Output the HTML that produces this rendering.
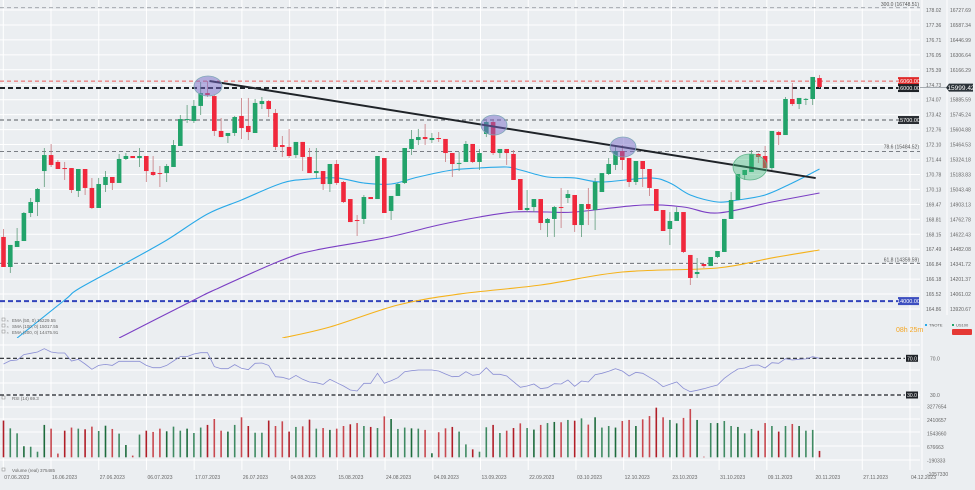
<!DOCTYPE html>
<html><head><meta charset="utf-8"><style>
html,body{margin:0;padding:0;background:#ebeef1;}
svg{display:block;font-family:"Liberation Sans",sans-serif;}
</style></head><body>
<svg id="c" width="975" height="490" viewBox="0 0 975 490">
<defs><clipPath id="pc"><rect x="0" y="0" width="920" height="338"/></clipPath></defs>
<rect x="0" y="0" width="975" height="490" fill="#ebeef1"/>
<g id="grid"></g>
<g id="hlines"></g>
<g id="ma" clip-path="url(#pc)"></g>
<g id="candles" clip-path="url(#pc)"></g>
<g id="ann"></g>
<g id="rsi"></g>
<g id="vol"></g>
<g id="axes"></g>
</svg>
<script>
const candles=[
[14597,14672,14315,14315],[14315,14522,14259,14522],[14503,14681,14503,14559],[14559,14831,14559,14822],[14822,14963,14784,14925],
[14925,15057,14794,15047],[15216,15432,15066,15366],[15366,15470,15254,15273],[15301,15320,15235,15235],[15244,15301,15132,15235],
[15244,15244,15010,15038],[15029,15235,14972,15235],[15235,15235,14991,15057],[15057,15151,14860,14869],[14869,15151,14869,15094],
[15085,15216,15019,15160],[15160,15160,15038,15104],[15104,15376,15104,15329],[15329,15385,15320,15357],[15357,15357,15338,15338],
[15338,15432,15254,15357],[15357,15357,15113,15216],[15207,15357,15169,15179],[15197,15263,15066,15188],[15197,15282,15113,15263],
[15254,15507,15254,15460],[15451,15742,15451,15704],[15695,15836,15667,15704],[15686,15883,15667,15827],[15827,16052,15742,15948],
[15948,16061,15911,15930],[15920,15930,15545,15592],[15592,15714,15535,15535],[15545,15573,15479,15573],[15573,15733,15545,15723],
[15733,15902,15517,15620],[15639,15902,15507,15582],[15573,15892,15573,15855],[15845,15911,15798,15873],[15873,15883,15723,15798],
[15761,15798,15413,15442],[15460,15545,15348,15442],[15442,15611,15338,15357],[15366,15489,15338,15489],[15489,15489,15216,15348],
[15348,15432,15197,15197],[15197,15432,15151,15216],[15216,15216,15038,15094],[15094,15282,15019,15282],[15282,15320,15085,15104],
[15113,15122,14916,14925],[14953,14953,14737,14737],[14756,14803,14606,14747],[14766,14991,14719,14972],[14972,14972,14953,14953],
[14953,15357,14953,15357],[15338,15338,14822,14822],[14841,14982,14756,14982],[14982,15104,14982,15094],[15104,15432,15094,15432],
[15423,15601,15366,15517],[15507,15611,15460,15535],[15535,15657,15460,15517],[15507,15573,15479,15526],[15526,15582,15489,15517],
[15517,15517,15301,15385],[15385,15385,15160,15282],[15291,15395,15216,15292],[15301,15498,15301,15470],[15470,15470,15291,15301],
[15301,15423,15226,15385],[15564,15686,15535,15676],[15676,15704,15366,15385],[15385,15423,15338,15423],[15423,15423,15273,15385],
[15376,15413,15132,15132],[15141,15141,14850,14850],[14850,15038,14831,14869],[14878,14953,14831,14953],[14953,14953,14662,14728],
[14728,14775,14597,14766],[14766,14888,14597,14878],[14878,15057,14681,14869],[14963,15038,14916,15000],[14991,14991,14644,14709],
[14709,14906,14597,14906],[14906,15057,14709,14860],[14850,15151,14662,15113],[15019,15197,15019,15197],[15188,15338,15179,15282],
[15273,15460,15226,15404],[15404,15460,15226,15320],[15338,15338,15066,15113],[15113,15310,15085,15310],[15310,15310,15066,15235],
[15235,15235,14982,15057],[15047,15047,14841,14841],[14850,14850,14653,14653],[14672,14831,14522,14747],[14747,14878,14747,14831],
[14831,14831,14446,14456],[14428,14428,14146,14212],[14249,14400,14212,14268],[14343,14343,14306,14324],[14324,14409,14324,14409],
[14409,14465,14400,14465],[14456,14766,14456,14766],[14766,15019,14766,14944],[14944,15188,14944,15188],[15179,15226,15132,15226],
[15207,15413,15207,15376],[15376,15385,15291,15348],[15357,15451,15244,15244],[15244,15592,15226,15592],[15582,15592,15460,15554],
[15554,15911,15554,15892],[15892,16042,15827,15845],[15845,15902,15798,15902],[15892,15902,15836,15893],[15892,16099,15836,16099],
[16089,16117,15995,16005]];
const volumes=[2.36,1.86,1.54,0.71,0.68,0.36,2.08,1.84,0.24,1.71,1.91,1.84,1.80,1.97,1.69,2.03,1.82,1.52,0.79,0.11,
1.46,1.71,1.63,1.84,1.67,1.97,1.71,1.84,1.56,1.91,2.08,2.46,1.71,1.65,2.08,2.57,2.01,1.58,1.58,2.36,
2.01,2.31,1.65,1.95,1.99,2.42,1.84,1.88,1.76,1.84,2.01,2.12,2.20,2.01,1.95,1.88,2.63,2.46,1.82,1.91,
1.86,1.84,1.76,0.26,1.61,1.86,1.95,1.65,0.83,0.51,0.36,1.93,2.08,1.56,1.71,1.88,2.18,1.88,1.78,2.08,
2.20,2.27,2.25,2.40,2.35,2.50,2.10,2.57,1.91,2.01,1.91,2.33,2.40,2.01,2.44,2.65,3.19,2.57,2.40,2.18,
2.53,3.10,2.40,0.04,2.20,2.20,2.33,2.01,1.95,1.54,1.82,1.71,2.20,2.01,1.65,2.01,2.14,2.01,1.71,1.76,0.41];
const rsiValues=[63.8,67.4,68.1,74.0,75.4,76.9,80.5,76.9,75.8,75.8,67.1,68.9,63.8,58.0,62.3,63.4,62.3,66.7,66.7,66.7,
66.7,62.3,59.8,59.8,62.3,67.1,71.8,71.8,74.7,76.1,76.1,60.9,58.7,58.7,63.1,59.1,57.6,64.5,64.9,62.3,
50.0,49.3,47.1,51.4,47.1,44.2,43.4,41.6,47.1,43.4,39.8,35.4,34.4,42.7,42.7,53.6,42.7,45.6,48.9,55.4,
56.5,57.2,57.2,57.2,56.2,52.9,49.9,50.4,55.4,51.5,52.6,59.8,52.6,52.6,50.7,44.5,38.4,39.8,42.0,36.9,
38.0,42.3,42.0,46.3,39.5,45.3,44.2,52.1,53.6,55.8,58.7,56.2,50.7,54.7,53.6,49.3,44.9,39.0,41.7,44.2,
37.3,33.6,35.1,36.9,39.0,40.9,48.2,53.6,58.3,59.4,62.4,62.7,59.4,65.2,64.5,69.6,68.1,68.9,69.3,71.7,70.0];
const ema50Idx=[2,9,11,18,24,30,35,41,45,49,53,57,61,66,70,74,76,80,84,88,95,98,101,105,108,112,116,120];
const ema50Val=[13648,14005,14108,14353,14568,14813,14944,15104,15141,15151,15104,15094,15160,15226,15244,15254,15226,15160,15151,15113,15151,15104,14991,14925,14944,14991,15104,15235];
const sma100Idx=[17,28,31,41,46,56,64,70,75,80,84,94,100,105,113,120];
const sma100Val=[13648,14005,14099,14381,14475,14587,14709,14784,14831,14831,14831,14897,14878,14822,14925,15010];
const ema200Idx=[41,48,58,67,79,91,105,113,120];
const ema200Val=[13648,13752,13958,14061,14146,14268,14306,14400,14475];
const priceTicksL=["178.02","177.36","176.71","176.05","175.39","174.73","174.07","173.42","172.76","172.10","171.44","170.78","170.13","169.47","168.81","168.15","167.49","166.84","166.18","165.52","164.86"];
const priceTicksR=[16727.69,16587.34,16446.99,16306.64,16166.29,16025.94,15885.59,15745.24,15604.88,15464.53,15324.18,15183.83,15043.48,14903.13,14762.78,14622.43,14482.08,14341.72,14201.37,14061.02,13920.67];
const volTicks=[3277654,2410657,1543660,676663,-190333,-1057330];
const dateLabels=["07.06.2023","16.06.2023","27.06.2023","06.07.2023","17.07.2023","26.07.2023","04.08.2023","15.08.2023","24.08.2023","04.09.2023","13.09.2023","22.09.2023","03.10.2023","12.10.2023","23.10.2023","31.10.2023","09.11.2023","20.11.2023","27.11.2023","04.12.2023"];
const trendFrom=[30,16061], trendTo=[119,15150];

const NS="http://www.w3.org/2000/svg";
function mk(tag,attrs,parent,text){const e=document.createElementNS(NS,tag);for(const k in attrs)e.setAttribute(k,attrs[k]);if(text!==undefined)e.textContent=text;parent.appendChild(e);return e;}
const X=i=>3.5+6.8*i;
const Y=v=>10+(16727.69-v)*0.10652;
const YV=v=>457.3-v*1e6*1.5571e-5;
const YR=v=>358.3+(70-v)*0.9175;
const G=id=>document.getElementById(id);

// grid
const grid=G('grid');
for(let k=0;k<dateLabels.length;k++){const x=3.3+47.72*k;
 const l=mk('line',{x1:x,y1:0,x2:x,y2:470,stroke:'#ffffff','stroke-width':1},grid);
 
 }
for(let k=0;k<priceTicksR.length;k++){const y=Y(priceTicksR[k]);
 const l=mk('line',{x1:0,y1:y,x2:920,y2:y,stroke:'#ffffff','stroke-width':1},grid);
 
 }
[345,358,370,383,395,407,419,432,446,460].forEach(y=>{const l=mk('line',{x1:0,y1:y,x2:920,y2:y,stroke:'#ffffff','stroke-width':1},grid);
 
 });
mk('line',{x1:922,y1:0,x2:922,y2:470,stroke:'#ffffff'},grid);
mk('line',{x1:947,y1:0,x2:947,y2:315,stroke:'#ffffff'},grid);

// horizontal levels
const hl=G('hlines');
function level(v,color,w,dash,name){const y=Y(v);const l=mk('line',{x1:0,y1:y,x2:920,y2:y,stroke:color,'stroke-width':w,'stroke-dasharray':dash},hl);
 
 return y;}
level(16748.51,'#8a8f96',0.8,'4,3','level-300');
level(16060,'#e85a5a',0.9,'4,3','level-16060');
level(15995,'#1f2328',2,'5,3','level-16000');
level(15695,'#555a60',1,'4,3','level-15700');
level(15399,'#6a6f75',0.9,'4,3','level-78-6');
level(14350,'#555a60',0.9,'4,3','level-61-8');
level(13995,'#3344bb',2,'5,3','level-14000');
function tag(x,y,w,bg,txt,name,fc){const g=mk('g',{},hl);
 mk('rect',{x:x,y:y-4,width:w,height:8,fill:bg},g);mk('text',{x:x+w/2,y:y+2,'font-size':5.5,fill:fc||'#fff','text-anchor':'middle'},g,txt);}
tag(898,Y(16060),21,'#e02b2b','16060.00','tag-16060');
tag(898,Y(15995),21,'#1f2328','16000.00','tag-16000');
tag(898,Y(15695),21,'#2a2e33','15700.00','tag-15700');
tag(898,Y(13995),21,'#3d4fc0','14000.00','tag-14000');
function lbl(x,y,txt,name){const t=mk('text',{x:x,y:y,'font-size':5,fill:'#555','text-anchor':'end'},hl,txt);}
lbl(919,Y(16748.51)-2,'300.0 (16748.51)','label-300');
lbl(919,Y(15399)-3,'78.6 (15484.52)','label-78-6');
lbl(919,Y(14350)-2,'61.8 (14359.59)','label-61-8');

// moving averages (smoothed)
const ma=G('ma');
function smoothPath(pts){let d='M'+pts[0][0].toFixed(1)+','+pts[0][1].toFixed(1);
 for(let i=0;i<pts.length-1;i++){const p0=pts[i-1]||pts[i],p1=pts[i],p2=pts[i+1],p3=pts[i+2]||p2;
  const c1=[p1[0]+(p2[0]-p0[0])/6,p1[1]+(p2[1]-p0[1])/6],c2=[p2[0]-(p3[0]-p1[0])/6,p2[1]-(p3[1]-p1[1])/6];
  d+=' C'+c1[0].toFixed(1)+','+c1[1].toFixed(1)+' '+c2[0].toFixed(1)+','+c2[1].toFixed(1)+' '+p2[0].toFixed(1)+','+p2[1].toFixed(1);}
 return d;}
function maLine(idx,val,color,name){const pts=idx.map((i,k)=>[X(i),Y(val[k])]);
 const p=mk('path',{d:smoothPath(pts),fill:'none',stroke:color,'stroke-width':1.1,'stroke-linejoin':'round'},ma);
 
 }
maLine(ema50Idx,ema50Val,'#29a9e8','ema-50-line');
maLine(sma100Idx,sma100Val,'#7b3fc4','sma-100-line');
maLine(ema200Idx,ema200Val,'#f5b21b','ema-200-line');

// candles
const cg=G('candles');
candles.forEach((c,i)=>{const [o,h,l,cl]=c;const up=cl>=o;const col=up?'#22a36a':'#f0283c';const x=X(i);
 const g=mk('g',{},cg);
 
 
 mk('line',{x1:x,y1:Y(h),x2:x,y2:Y(l),stroke:up?'#5f9c7c':'#c77a80','stroke-width':0.8},g);
 const yt=Y(Math.max(o,cl)),yb=Y(Math.min(o,cl));
 mk('rect',{x:x-2.3,y:yt,width:4.6,height:Math.max(1,yb-yt),fill:col},g);});

// trend line + ellipses
const an=G('ann');
const tl=mk('line',{x1:X(trendFrom[0])+2,y1:Y(trendFrom[1]),x2:X(trendTo[0])+3,y2:Y(trendTo[1]),stroke:'#1f2328','stroke-width':2},an);


[[208,86,14,10,'rgba(120,105,200,0.5)','#7fa8b8'],[494,125,13,10,'rgba(120,105,200,0.5)','#7fa8b8'],[623,147,13,10,'rgba(120,105,200,0.5)','#7fa8b8'],[750,167,17,13,'rgba(60,185,120,0.4)','#5fb58a']].forEach(e=>{
 const el=mk('ellipse',{cx:e[0],cy:e[1],rx:e[2],ry:e[3],fill:e[4],stroke:e[5],'stroke-width':0.8},an);
 
 });
const lg=[['EMA (50, 0) 15229.55',322],['SMA (100, 0) 15017.55',328],['EMA (200, 0) 14475.91',334]];
lg.forEach(t=>{const tx=mk('text',{x:12,y:t[1],'font-size':4.5,fill:'#666'},an,t[0]);
 mk('rect',{x:2,y:t[1]-4,width:3,height:3,fill:'none',stroke:'#888','stroke-width':0.5},an);mk('text',{x:6.5,y:t[1],'font-size':4,fill:'#888'},an,'×');});
const tm=mk('text',{x:896,y:332,'font-size':7,fill:'#f5a623'},an,'08h 25m');
mk('rect',{x:925,y:324,width:2,height:2,fill:'#29a9e8'},an);
mk('text',{x:929,y:326.5,'font-size':4,fill:'#555'},an,'TNOTE');
mk('rect',{x:952,y:324,width:2,height:2,fill:'#22a36a'},an);
mk('text',{x:956,y:326.5,'font-size':4,fill:'#555'},an,'US100');
mk('rect',{x:952,y:329,width:20,height:6,rx:1,fill:'#e53935'},an);
// current price tag
mk('line',{x1:920,y1:Y(15999.42),x2:946,y2:Y(15999.42),stroke:'#9aa0a6','stroke-width':0.8},an);
const cp=mk('g',{},an);
mk('path',{d:`M946,${Y(15999.42)} l3,-4 h24 v8 h-24 z`,fill:'#2a3238'},cp);
mk('text',{x:961,y:Y(15999.42)+2.3,'font-size':6.5,fill:'#fff','text-anchor':'middle'},cp,'15999.42');

// RSI
const rg=G('rsi');
[[70,'70.0'],[30,'30.0']].forEach(r=>{const y=YR(r[0]);
 const l=mk('line',{x1:0,y1:y,x2:905,y2:y,stroke:'#1f2328','stroke-width':1.2,'stroke-dasharray':'4,2.5'},rg);
 
 
 mk('rect',{x:906,y:y-3.5,width:12,height:7,fill:'#1f2328'},rg);
 mk('text',{x:912,y:y+2,'font-size':5,fill:'#fff','text-anchor':'middle'},rg,r[1]);
 mk('text',{x:930,y:y+2,'font-size':5,fill:'#666'},rg,r[1]);});
const rp=mk('path',{d:rsiValues.map((v,i)=>(i?'L':'M')+X(i).toFixed(1)+','+YR(v).toFixed(1)).join(' '),fill:'none',stroke:'#8b8fd4','stroke-width':0.8},rg);


const rl=mk('text',{x:12,y:400,'font-size':4.5,fill:'#666'},rg,'RSI (14) 69.3');
mk('rect',{x:2,y:396,width:3,height:3,fill:'none',stroke:'#888','stroke-width':0.5},rg);

// Volume
const vg=G('vol');
volumes.forEach((v,i)=>{const c=candles[i];const up=c[3]>=c[0];const y=YV(v);
 const b=mk('rect',{x:X(i)-0.8,y:y,width:1.6,height:Math.max(0.6,457.3-y),fill:up?(i%3?'#3f8a62':'#1d6b3c'):(i%3?'#c8484f':'#b01e28')},vg);
 
 });
const vl=mk('text',{x:12,y:472,'font-size':4.5,fill:'#666'},vg,'Volume (real) 375485');
mk('rect',{x:2,y:468,width:3,height:3,fill:'none',stroke:'#888','stroke-width':0.5},vg);

// axes labels
const ax=G('axes');
priceTicksR.forEach((v,k)=>{const y=Y(v)+2;
 if(k!==5){const t=mk('text',{x:950,y:y,'font-size':5,fill:'#666'},ax,v.toFixed(2));}
 const t2=mk('text',{x:926,y:y,'font-size':5,fill:'#666'},ax,priceTicksL[k]);});
volTicks.forEach(v=>{const t=mk('text',{x:927,y:YV(v/1e6)+2,'font-size':5,fill:'#666'},ax,String(v));});
dateLabels.forEach((d,k)=>{const t=mk('text',{x:4.3+47.72*k,y:479,'font-size':5,fill:'#666'},ax,d);});
</script>
</body></html>
